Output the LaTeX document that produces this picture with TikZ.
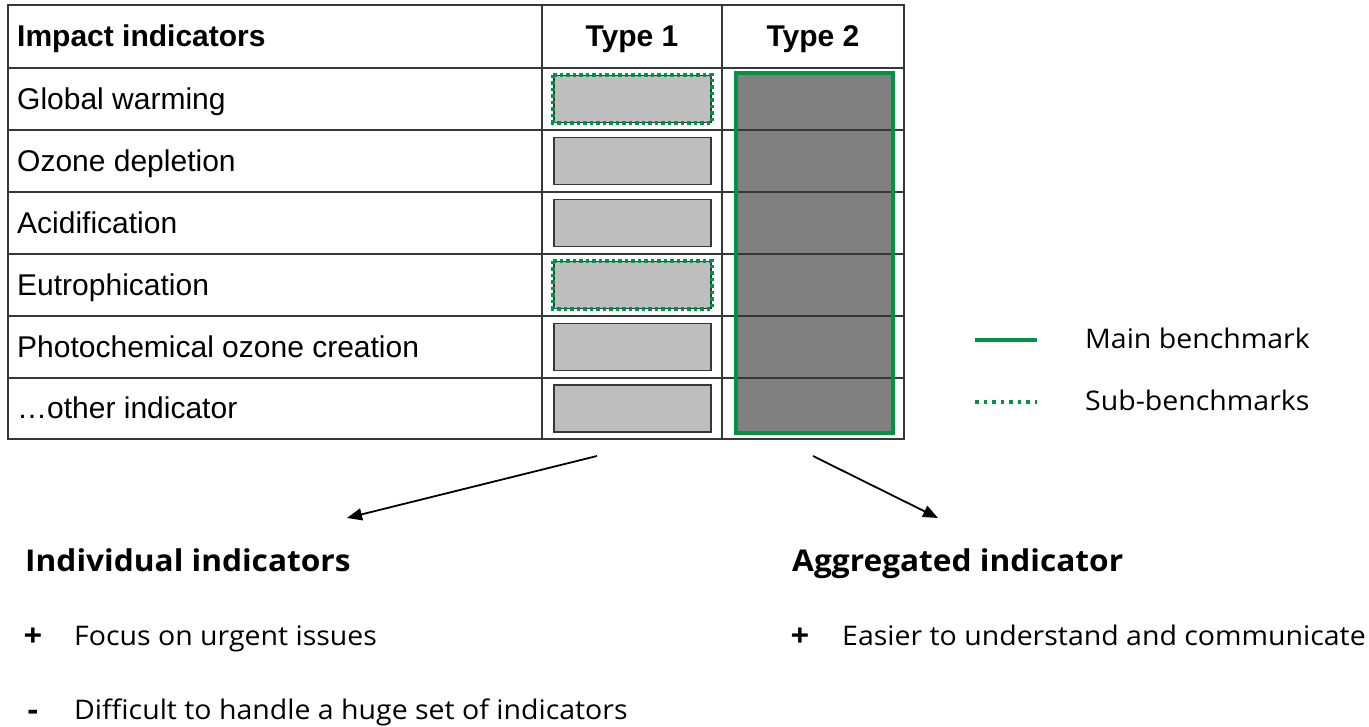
\documentclass[tikz,border=0pt]{standalone}
\usepackage{fontspec}
\setmainfont{Liberation Sans}
\newfontfamily\notefont[FakeStretch=1.055]{Open Sans}
\usetikzlibrary{arrows.meta}

\definecolor{bench}{RGB}{0,146,69}
\definecolor{lightbar}{RGB}{190,190,190}
\definecolor{darkbar}{RGB}{128,128,128}
\definecolor{rulegray}{RGB}{55,55,55}

\tikzset{
  celltext/.style={anchor=base west, inner sep=0pt, font=\fontsize{30}{36}\selectfont},
  headtext/.style={inner sep=0pt, font=\fontsize{30}{36}\selectfont\bfseries},
  tablerule/.style={draw=rulegray, line width=1.4pt},
  bar/.style={draw=rulegray, line width=1.2pt, fill=lightbar, minimum width=157pt, minimum height=47pt, inner sep=0pt},
  subbench/.style={draw=bench, line width=4pt, dash pattern=on 3.5pt off 3pt},
  mainbench/.style={draw=bench, line width=4pt},
  pointer/.style={draw=black, line width=1.8pt, -{Triangle[length=15pt,width=12pt]}},
  notehead/.style={anchor=base west, inner sep=0pt, font=\notefont\fontsize{30}{36}\selectfont\bfseries},
  notebody/.style={anchor=base west, inner sep=0pt, font=\notefont\fontsize{27}{32}\selectfont},
  notemark/.style={anchor=base, inner sep=0pt, font=\notefont\fontsize{31}{36}\selectfont\bfseries},
  legendtext/.style={anchor=base west, inner sep=0pt, font=\notefont\fontsize{27}{32}\selectfont},
}

\begin{document}
\begin{tikzpicture}[x=1pt, y=-1pt]
\useasboundingbox (0,0) rectangle (1369,727);

% aggregated column: dark fill first, grid on top, green frame last
\node[fill=darkbar, minimum width=157pt, minimum height=360pt, inner sep=0pt] (agg) at (814.5,253) {};

% type 1 bars
\node[bar] (b1) at (632.5,99) {};
\node[bar] (b2) at (632.5,161) {};
\node[bar] (b3) at (632.5,223) {};
\node[bar] (b4) at (632.5,285) {};
\node[bar] (b5) at (632.5,347) {};
\node[bar] (b6) at (632.5,408.5) {};
\draw[subbench] (b1.north west) rectangle (b1.south east);
\draw[subbench] (b4.north west) rectangle (b4.south east);

% table grid
\draw[tablerule] (8,5) rectangle (904,439);
\foreach \yy in {68,130,192,254,316,378} \draw[tablerule] (8,\yy) -- (904,\yy);
\draw[tablerule] (542,5) -- (542,439);
\draw[tablerule] (722,5) -- (722,439);

\draw[mainbench] (agg.north west) rectangle (agg.south east);

% header and row labels
\node[headtext, anchor=base west] (hdr) at (17,47) {Impact indicators};
\node[headtext, anchor=base] (t1) at (632,47) {Type 1};
\node[headtext, anchor=base] (t2) at (813,47) {Type 2};
\node[celltext] (r1) at (17,110) {Global warming};
\node[celltext] (r2) at (17,172) {Ozone depletion};
\node[celltext] (r3) at (17,234) {Acidification};
\node[celltext] (r4) at (17,296) {Eutrophication};
\node[celltext] (r5) at (17,358) {Photochemical ozone creation};
\node[celltext] (r6) at (17,419) {…other indicator};

% legend
\coordinate (lm1) at (975,340);
\coordinate (lm2) at (1037,340);
\coordinate (ls1) at (975,402);
\coordinate (ls2) at (1037,402);
\draw[mainbench] (lm1) -- (lm2);
\draw[draw=bench, line width=4pt, dash pattern=on 3.5pt off 5pt] (ls1) -- (ls2);
\node[legendtext] (lmt) at (1085,349) {Main benchmark};
\node[legendtext] (lst) at (1085,410) {Sub-benchmarks};

% pointers to the two approaches
\coordinate (p1s) at (597,456);
\coordinate (p1e) at (347,518);
\coordinate (p2s) at (813,456);
\coordinate (p2e) at (938,518);
\draw[pointer] (p1s) -- (p1e);
\draw[pointer] (p2s) -- (p2e);

% notes
\node[notehead] (ind) at (25,571) {Individual indicators};
\node[notehead] (agt) at (792,571) {Aggregated indicator};
\node[notemark] (ip) at (33,646) {+};
\node[notebody] (ipt) at (74,645) {Focus on urgent issues};
\node[notemark] (im) at (33,720) {-};
\node[notebody] (imt) at (74,719) {Difficult to handle a huge set of indicators};
\node[notemark] (ap) at (800,646) {+};
\node[notebody] (apt) at (842,645) {Easier to understand and communicate};
\end{tikzpicture}
\end{document}
